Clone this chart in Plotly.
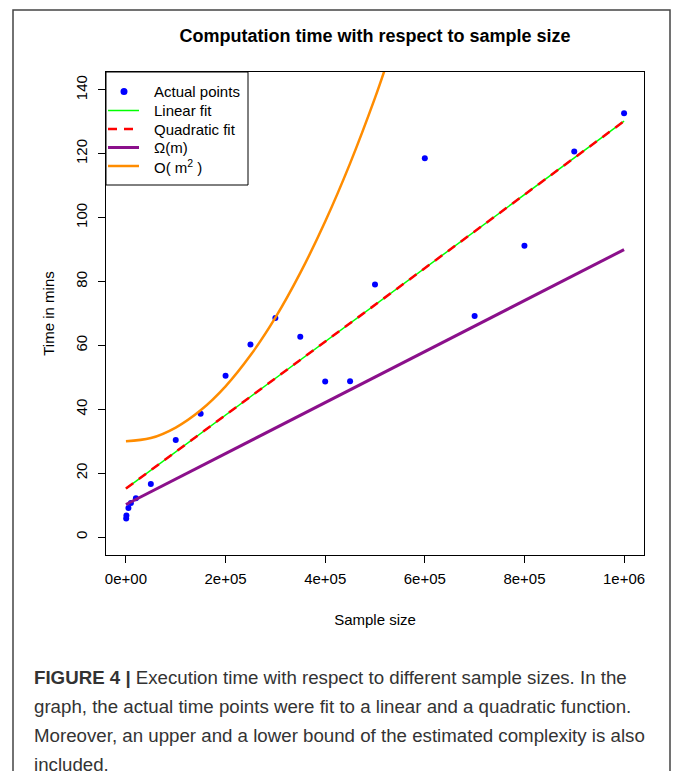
import plotly.graph_objects as go

# ---- data ----
sample_size = [500, 1000, 5000, 10000, 20000, 50000, 100000, 150000, 200000, 250000,
               300000, 350000, 400000, 450000, 500000, 600000, 700000, 800000, 900000, 1000000]
time_mins = [5.8, 6.8, 9.1, 10.7, 12.2, 16.6, 30.4, 38.6, 50.5, 60.3,
             68.6, 62.7, 48.7, 48.8, 79.1, 118.6, 69.2, 91.2, 120.7, 132.7]

fit_x = [0, 1000000]
linear_fit = [15.2, 130.2]
quadratic_fit = [15.2, 130.2]
omega_x = [0, 1000000]
omega_m = [10.2, 90.0]

bigo_x = [0, 50000, 100000, 150000, 200000, 250000, 300000, 350000, 400000, 450000, 500000, 520000]
bigo_m2 = [30.0, 31.0, 34.3, 39.7, 47.2, 56.9, 68.7, 82.7, 98.8, 117.0, 137.5, 146.5]

x_ticks = [0, 200000, 400000, 600000, 800000, 1000000]
x_tick_labels = ["0e+00", "2e+05", "4e+05", "6e+05", "8e+05", "1e+06"]
y_ticks = [0, 20, 40, 60, 80, 100, 120, 140]

series_names = ["Actual points", "Linear fit", "Quadratic fit", "Ω(m)", "O( m<sup>2</sup> )"]
series_colors = ["#0000FF", "#00FF00", "#FF0000", "#8B108B", "#FF8C00"]

caption_lines = [
    "<b>FIGURE 4 |</b> Execution time with respect to different sample sizes. In the",
    "graph, the actual time points were fit to a linear and a quadratic function.",
    "Moreover, an upper and a lower bound of the estimated complexity is also",
    "included.",
]

# ---- layout geometry (pixels) ----
W, H = 673, 771
L, R, T, B = 106, 644, 72, 555
PW, PH = R - L, B - T

def px(x):
    return (x - L) / PW

def py(y):
    return (B - y) / PH

FONT = "Liberation Sans, Arial, Helvetica, sans-serif"

fig = go.Figure()
fig.add_trace(go.Scatter(x=sample_size, y=time_mins, mode="markers", name=series_names[0],
                         marker=dict(color=series_colors[0], size=6, line=dict(width=0))))
fig.add_trace(go.Scatter(x=fit_x, y=linear_fit, mode="lines", name=series_names[1],
                         line=dict(color=series_colors[1], width=1.5)))
fig.add_trace(go.Scatter(x=fit_x, y=quadratic_fit, mode="lines", name=series_names[2],
                         line=dict(color=series_colors[2], width=2.5, dash="9px,7px")))
fig.add_trace(go.Scatter(x=omega_x, y=omega_m, mode="lines", name=series_names[3],
                         line=dict(color=series_colors[3], width=3)))
fig.add_trace(go.Scatter(x=bigo_x, y=bigo_m2, mode="lines", name=series_names[4],
                         line=dict(color=series_colors[4], width=2.5, shape="spline")))

fig.update_layout(
    width=W, height=H,
    margin=dict(l=L, r=W - R, t=T, b=H - B, pad=0),
    paper_bgcolor="white", plot_bgcolor="white",
    font=dict(family=FONT, size=15, color="black"),
    title=dict(text="<b>Computation time with respect to sample size</b>",
               x=(L + R) / 2 / W, xanchor="center", y=1 - 36 / H, yanchor="middle",
               font=dict(size=18, color="black", family=FONT)),
    showlegend=False,
    hovermode=False,
    xaxis=dict(range=[-40000, 1040000], tickvals=x_ticks, ticktext=x_tick_labels,
               showgrid=False, zeroline=False, showline=True, mirror=True,
               linecolor="black", linewidth=1, ticks="outside", ticklen=7,
               tickcolor="black", tickfont=dict(size=15), ticklabelstandoff=3,
               title=dict(text="Sample size", font=dict(size=15), standoff=28)),
    yaxis=dict(range=[-5.6, 145.6], tickvals=y_ticks,
               showgrid=False, zeroline=False, showline=True, mirror=True,
               linecolor="black", linewidth=1, ticks="outside", ticklen=7,
               tickcolor="black", tickfont=dict(size=15), tickangle=-90, ticklabelstandoff=5,
               title=dict(text="Time in mins", font=dict(size=15), standoff=14)),
)

# outer figure frame
fig.add_shape(type="rect", xref="paper", yref="paper",
              x0=px(13), x1=px(670), y0=py(790), y1=py(10),
              line=dict(color="#444444", width=1.5), fillcolor="rgba(0,0,0,0)", layer="below")

# R-style legend box in the top-left corner of the plot
fig.add_shape(type="rect", xref="paper", yref="paper",
              x0=px(106), x1=px(248), y0=py(185), y1=py(72),
              line=dict(color="black", width=1), fillcolor="white", layer="above")
row_y = [91.5, 110.5, 129, 147.5, 166]
# point symbol
fig.add_shape(type="circle", xref="paper", yref="paper",
              x0=px(120.5), x1=px(127.5), y0=py(row_y[0] + 3.5), y1=py(row_y[0] - 3.5),
              line=dict(width=0), fillcolor=series_colors[0], layer="above")
legend_line_styles = [None,
                      dict(width=1.5, dash="solid"),
                      dict(width=2.5, dash="9px,7px"),
                      dict(width=3, dash="solid"),
                      dict(width=2.5, dash="solid")]
for i in range(1, 5):
    st = legend_line_styles[i]
    fig.add_shape(type="line", xref="paper", yref="paper",
                  x0=px(108), x1=px(139), y0=py(row_y[i]), y1=py(row_y[i]),
                  line=dict(color=series_colors[i], width=st["width"], dash=st["dash"]),
                  layer="above")
for i, name in enumerate(series_names):
    fig.add_annotation(text=name, xref="paper", yref="paper", x=px(152), y=py(row_y[i]),
                       xanchor="left", yanchor="middle", showarrow=False,
                       font=dict(family=FONT, size=15, color="black"))

# caption
for i, line in enumerate(caption_lines):
    fig.add_annotation(text=line, xref="paper", yref="paper", x=px(32), y=py(677 + 29 * i),
                       xanchor="left", yanchor="middle", showarrow=False, align="left",
                       font=dict(family=FONT, size=18.7, color="#333333"))

fig.write_html("out.html", config={"displayModeBar": False},
               post_script="document.body.style.margin='0px';")
